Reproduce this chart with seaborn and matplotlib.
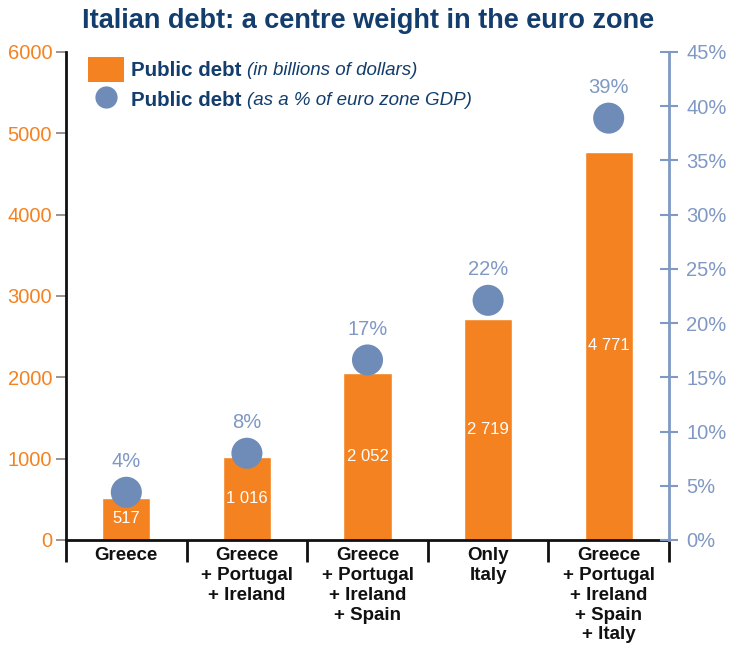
import matplotlib
matplotlib.use('Agg')
import matplotlib.pyplot as plt
import seaborn as sns
import pandas as pd
from matplotlib.patches import Patch
from matplotlib.lines import Line2D
from matplotlib.ticker import FixedLocator

# DATA
groups = ['Greece',
          'Greece\n+ Portugal\n+ Ireland',
          'Greece\n+ Portugal\n+ Ireland\n+ Spain',
          'Only\nItaly',
          'Greece\n+ Portugal\n+ Ireland\n+ Spain\n+ Italy']
debt_bn = [517, 1016, 2052, 2719, 4771]
debt_labels = ['517', '1 016', '2 052', '2 719', '4 771']
debt_pct = [4.4, 8.0, 16.6, 22.1, 38.9]
pct_labels = ['4%', '8%', '17%', '22%', '39%']
left_ticks = [0, 1000, 2000, 3000, 4000, 5000, 6000]
right_ticks = [0, 5, 10, 15, 20, 25, 30, 35, 40, 45]

ORANGE = '#f58220'
DOT = '#6f8cb9'
BLUE_AX = '#7f98c4'
NAVY = '#123d6c'

sns.set_style('white')
plt.rcParams['font.family'] = ['Liberation Sans', 'DejaVu Sans']

df = pd.DataFrame({'group': groups, 'debt': debt_bn, 'pct': debt_pct})

fig = plt.figure(figsize=(7.37, 6.45), dpi=100)
ax = fig.add_axes([0.0896, 0.1628, 0.8181, 0.7566])

# BARS
sns.barplot(data=df, x='group', y='debt', color=ORANGE, saturation=1,
            width=0.4, ax=ax)
ax.bar_label(ax.containers[0], labels=debt_labels, label_type='center',
             color='white', fontsize=12)

ax.set_ylim(0, 6000)
ax.set_xlim(-0.5, 4.5)
ax.set_xlabel('')
ax.set_ylabel('')
ax.set_yticks(left_ticks)
ax.tick_params(axis='y', left=True, colors='#8a7f7f', length=7, width=1.2,
               pad=3, labelsize=14.5, labelcolor=ORANGE)
ax.tick_params(axis='x', which='major', length=0, pad=5, labelsize=13.5,
               labelcolor='#111111')
for lab in ax.get_xticklabels():
    lab.set_fontweight('bold')
    lab.set_linespacing(1.22)
ax.xaxis.set_minor_locator(FixedLocator([-0.5, 0.5, 1.5, 2.5, 3.5, 4.5]))
ax.tick_params(axis='x', which='minor', bottom=True, length=16, width=2,
               color='#111111', direction='out')
for s in ['top', 'right']:
    ax.spines[s].set_visible(False)
ax.spines['left'].set_linewidth(2)
ax.spines['left'].set_color('#111111')
ax.spines['bottom'].set_linewidth(2)
ax.spines['bottom'].set_color('#111111')

# DOTS ON SECOND AXIS
ax2 = ax.twinx()
sns.scatterplot(data=df, x='group', y='pct', color=DOT, s=500,
                edgecolor='none', ax=ax2, zorder=5, clip_on=False)
ax2.set_ylim(0, 45)
ax2.set_yticks(right_ticks)
ax2.set_yticklabels([f'{t}%' for t in right_ticks])
ax2.set_ylabel('')
ax2.tick_params(axis='y', right=True, colors=BLUE_AX, direction='inout',
                length=13, width=1.5, pad=6, labelsize=14.5)
for s in ['top', 'left', 'bottom']:
    ax2.spines[s].set_visible(False)
ax2.spines['right'].set_color(BLUE_AX)
ax2.spines['right'].set_linewidth(2)

for i, (p, lab) in enumerate(zip(debt_pct, pct_labels)):
    ax2.annotate(lab, (i, p), xytext=(0, 22), textcoords='offset points',
                 ha='center', va='center', color=BLUE_AX, fontsize=14.5)

# TITLE
fig.text(0.5, 0.968, 'Italian debt: a centre weight in the euro zone',
         ha='center', va='center', fontsize=19.5, fontweight='bold',
         color=NAVY)

# LEGEND
handles = [Patch(facecolor=ORANGE, edgecolor='none'),
           Line2D([], [], marker='o', ls='', ms=16, color=DOT, mec='none')]
leg = ax2.legend(handles, ['Public debt', 'Public debt'], loc='upper left',
                 bbox_to_anchor=(0.005, 1.027), frameon=False,
                 handlelength=1.75, handleheight=1.45, handletextpad=0.35,
                 labelspacing=0.28, prop={'weight': 'bold', 'size': 14.8})
for t in leg.get_texts():
    t.set_color(NAVY)

fig.canvas.draw()
inv = fig.transFigure.inverted()
extras = ['(in billions of dollars)', '(as a % of euro zone GDP)']
for t, extra in zip(leg.get_texts(), extras):
    bb = t.get_window_extent()
    x0, y0 = inv.transform((bb.x1 + 6, (bb.y0 + bb.y1) / 2))
    fig.text(x0, y0, extra, ha='left', va='center', fontsize=13.5,
             fontstyle='italic', color=NAVY)

fig.savefig('out.png', dpi=100)
